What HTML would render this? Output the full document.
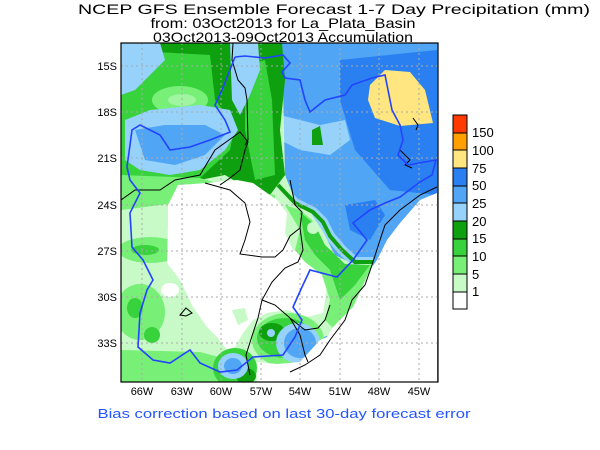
<!DOCTYPE html>
<html><head><meta charset="utf-8"><style>
html,body{margin:0;padding:0;background:#fff;width:600px;height:450px;overflow:hidden}
svg text{font-family:"Liberation Sans",sans-serif}
</style></head><body>
<svg width="600" height="450" viewBox="0 0 600 450" xmlns="http://www.w3.org/2000/svg">
<defs><clipPath id="c"><rect x="121" y="43" width="317" height="339"/></clipPath></defs>
<g font-size="14" fill="#000" text-anchor="middle">
<text x="334" y="14" textLength="512" lengthAdjust="spacingAndGlyphs">NCEP GFS Ensemble Forecast 1-7 Day Precipitation (mm)</text>
<text x="283" y="28" textLength="265" lengthAdjust="spacingAndGlyphs">from: 03Oct2013   for La_Plata_Basin</text>
<text x="283" y="42" textLength="260" lengthAdjust="spacingAndGlyphs">03Oct2013-09Oct2013 Accumulation</text>
</g>
<g clip-path="url(#c)">
<rect x="121" y="43" width="317" height="339" fill="#50a5f5"/>
<path d="M340,60 L437,50 L437,195 L390,190 L355,150 L340,100Z" fill="#2a80f0"/>
<path d="M370,85 L385,70 L410,72 L425,90 L433,123 L400,126 L375,118 L368,100Z" fill="#ffe680"/>
<path d="M280,115 L300,120 L320,125 L345,120 L350,140 L330,155 L300,150 L280,140Z" fill="#96d2fa"/>
<path d="M312,130 L320,126 L323,145 L312,145Z" fill="#0fa00f"/>
<!-- lower east dark blue -->
<path d="M345,205 L375,200 L385,215 L370,240 L350,230Z" fill="#2a80f0"/>
<!-- light blue/dark green rim along the blue edge -->
<path d="M278,185 L295,203 L313,212 L323,222 L330,236 L342,250 L355,262 L373,262" fill="none" stroke="#96d2fa" stroke-width="10"/>
<!-- pale green big -->
<path d="M121,43 L282,43 L285,175 L295,200 L310,212 L322,230 L335,255 L355,265 L372,262 L375,285 L360,300 L345,325 L330,335 L300,345 L290,382 L121,382Z" fill="#c8fac8"/>
<path d="M278,185 L295,203 L313,212 L323,222 L330,236 L342,250 L355,262 L373,262" fill="none" stroke="#0fa00f" stroke-width="4"/>
<!-- NW greens -->
<path d="M121,43 L282,43 L285,80 L280,130 L285,175 L270,195 L250,190 L225,175 L200,180 L180,185 L160,185 L140,190 L121,195Z" fill="#0fa00f"/>
<path d="M121,50 L210,55 L215,100 L235,125 L230,150 L200,178 L160,180 L121,185Z" fill="#37d23c"/>
<path d="M245,65 L265,60 L272,100 L275,175 L255,180 L245,130Z" fill="#37d23c"/>
<ellipse cx="180" cy="100" rx="28" ry="14" fill="#78f078"/>
<ellipse cx="182" cy="100" rx="14" ry="6" fill="#a0f5a0"/>
<path d="M121,43 L160,43 L165,60 L150,75 L135,90 L121,95Z" fill="#96d2fa"/>
<path d="M125,120 L150,110 L200,105 L230,110 L238,130 L225,150 L200,170 L170,175 L140,170 L125,160Z" fill="#96d2fa"/>
<path d="M135,130 L165,125 L205,125 L225,135 L205,155 L175,165 L145,160Z" fill="#50a5f5"/>
<path d="M230,43 L258,43 L260,70 L250,95 L240,115 L232,100Z" fill="#96d2fa"/>
<path d="M121,175 L200,178 L240,190 L275,195 L275,215 L200,200 L121,210Z" fill="#78f078"/>
<!-- left light green patches -->
<ellipse cx="150" cy="250" rx="32" ry="13" fill="#78f078"/>
<ellipse cx="145" cy="250" rx="14" ry="5" fill="#37d23c"/>
<ellipse cx="140" cy="312" rx="25" ry="28" fill="#78f078"/>
<ellipse cx="135" cy="308" rx="8" ry="10" fill="#37d23c"/>
<ellipse cx="152" cy="335" rx="8" ry="8" fill="#37d23c"/>
<path d="M121,350 L200,352 L230,360 L245,382 L121,382Z" fill="#78f078"/>
<!-- white interior -->
<path d="M168,205 L178,185 L207,183 L237,180 L253,183 L277,200 L287,213 L285,233 L293,250 L307,257 L327,260 L333,270 L327,287 L323,313 L307,317 L287,310 L267,313 L253,320 L243,333 L235,347 L227,350 L217,337 L207,327 L193,307 L180,280 L167,263 L168,225Z" fill="#fff"/>
<ellipse cx="170" cy="290" rx="9" ry="7" fill="#fff"/>
<path d="M232,310 L245,308 L248,320 L238,325Z" fill="#c8fac8"/>
<!-- east green band -->
<path d="M285,205 L300,210 L312,220 L320,240 L335,260 L355,270 L372,264 L375,285 L360,300 L350,320 L335,330 L325,320 L330,300 L322,275 L305,262 L295,250 L300,230Z" fill="#78f078"/>
<path d="M300,212 L315,225 L325,245 L345,264 L370,265 L355,285 L340,300 L335,285 L330,270 L315,255 L305,240Z" fill="#37d23c"/>
<circle cx="313" cy="228" r="6" fill="#c8fac8"/>
<!-- Uruguay blob -->
<ellipse cx="288" cy="340" rx="36" ry="27" fill="#78f078"/>
<ellipse cx="285" cy="338" rx="28" ry="20" fill="#37d23c"/>
<ellipse cx="272" cy="332" rx="13" ry="9" fill="#0fa00f"/>
<circle cx="271" cy="333" r="4" fill="#96d2fa"/>
<ellipse cx="298" cy="343" rx="22" ry="20" fill="#96d2fa"/>
<ellipse cx="300" cy="343" rx="16" ry="15" fill="#50a5f5"/>
<!-- south blob -->
<ellipse cx="235" cy="368" rx="22" ry="20" fill="#37d23c"/>
<ellipse cx="246" cy="376" rx="10" ry="8" fill="#0fa00f"/>
<ellipse cx="233" cy="366" rx="15" ry="13" fill="#96d2fa"/>
<ellipse cx="233" cy="366" rx="9" ry="8" fill="#50a5f5"/>
<!-- SE ocean white -->
<path d="M257,362 L277,364 L300,362 L320,340 L327,337 L333,327 L353,307 L370,270 L377,260 L387,240 L400,223 L420,200 L437,193 L437,382 L257,382Z" fill="#fff"/>
<!-- grid -->
<g stroke="#aaa" stroke-width="1" stroke-dasharray="2,3">
<line x1="142" y1="43" x2="142" y2="382"/><line x1="182" y1="43" x2="182" y2="382"/><line x1="221" y1="43" x2="221" y2="382"/><line x1="261" y1="43" x2="261" y2="382"/><line x1="300" y1="43" x2="300" y2="382"/><line x1="340" y1="43" x2="340" y2="382"/><line x1="379" y1="43" x2="379" y2="382"/><line x1="419" y1="43" x2="419" y2="382"/>
<line x1="121" y1="66" x2="438" y2="66"/><line x1="121" y1="112" x2="438" y2="112"/><line x1="121" y1="158" x2="438" y2="158"/><line x1="121" y1="205" x2="438" y2="205"/><line x1="121" y1="251" x2="438" y2="251"/><line x1="121" y1="297" x2="438" y2="297"/><line x1="121" y1="343" x2="438" y2="343"/>
</g>
<!-- borders -->
<g fill="none" stroke="#000" stroke-width="1">
<path d="M233,43 L232,60 L238,80 L245,88 L247,100 L248,140 L245,145"/>
<path d="M121,200 L135,190 L160,190 L175,180 L200,175 L215,150 L240,132 L248,142 L245,150 L240,170 L230,178 L220,185"/>
<path d="M205,183 L230,190 L245,203 L250,222 L245,240 L240,254 L262,257 L275,257 L283,250 L290,236 L300,228 L302,212 L295,205 L290,180"/>
<path d="M300,228 L303,250 L298,262 L285,268 L272,282 L262,300 L258,318 L252,336 L246,355 L250,375"/>
<path d="M437,187 L420,195 L400,210 L385,225 L380,240 L372,265 L365,285 L352,300 L345,320 L330,340 L320,355 L305,365 L290,372"/>
<path d="M262,300 L275,305 L290,318 L305,330 L318,328 L325,320 L330,305"/>
<path d="M290,318 L300,335 L305,355 L308,362"/>
<path d="M413,118 L418,125 L416,130 M400,150 L410,160 L405,165 L412,168"/>
<path d="M180,315 L186,308 L192,313 L186,316Z"/>
</g>
<!-- basin boundary -->
<path d="M235,57 L245,56 L265,58 L283,55 L290,63 L282,72 L285,78 L300,80 L305,100 L310,112 L325,100 L345,95 L352,85 L372,78 L385,75 L388,90 L392,110 L400,125 L403,140 L398,155 L408,165 L425,162 L436,160 L432,175 L420,182 L400,197 L385,203 L370,210 L353,223 L367,240 L353,260 L337,277 L310,270 L302,287 L293,307 L302,320 L295,337 L283,355 L253,357 L237,370 L220,372 L200,363 L190,350 L170,363 L153,360 L138,347 L140,313 L147,290 L153,280 L143,260 L132,247 L130,213 L140,193 L130,180 L127,167 L132,130 L140,125 L160,135 L170,150 L190,147 L210,140 L230,132 L225,120 L215,105 L222,90 L235,57" fill="none" stroke="#2244ff" stroke-width="1.6"/>
</g>
<rect x="121" y="43" width="317" height="339" fill="none" stroke="#000" stroke-width="1.2"/>
<g font-size="11" fill="#000" text-anchor="middle">
<text x="142" y="395">66W</text><text x="182" y="395">63W</text><text x="221" y="395">60W</text><text x="261" y="395">57W</text><text x="300" y="395">54W</text><text x="340" y="395">51W</text><text x="379" y="395">48W</text><text x="419" y="395">45W</text>
</g>
<g font-size="11" fill="#000" text-anchor="end">
<text x="117" y="70">15S</text><text x="117" y="116">18S</text><text x="117" y="162">21S</text><text x="117" y="209">24S</text><text x="117" y="255">27S</text><text x="117" y="301">30S</text><text x="117" y="347">33S</text>
</g>
<g stroke="#000" stroke-width="1">
<rect x="453" y="115" width="14" height="18" fill="#ff3a00"/>
<rect x="453" y="133" width="14" height="17" fill="#ffa000"/>
<rect x="453" y="150" width="14" height="18" fill="#ffe680"/>
<rect x="453" y="168" width="14" height="18" fill="#2a80f0"/>
<rect x="453" y="186" width="14" height="17" fill="#50a5f5"/>
<rect x="453" y="203" width="14" height="18" fill="#96d2fa"/>
<rect x="453" y="221" width="14" height="18" fill="#0fa00f"/>
<rect x="453" y="239" width="14" height="17" fill="#37d23c"/>
<rect x="453" y="256" width="14" height="18" fill="#78f078"/>
<rect x="453" y="274" width="14" height="18" fill="#c8fac8"/>
<rect x="453" y="292" width="14" height="17" fill="#fff"/>
</g>
<g font-size="13" fill="#000">
<text x="472" y="137">150</text><text x="472" y="155">100</text><text x="472" y="173">75</text><text x="472" y="190">50</text><text x="472" y="208">25</text><text x="472" y="226">20</text><text x="472" y="243">15</text><text x="472" y="261">10</text><text x="472" y="279">5</text><text x="472" y="296">1</text>
</g>
<text x="284" y="418" font-size="13" fill="#2255ff" text-anchor="middle" textLength="373" lengthAdjust="spacingAndGlyphs">Bias correction based on last 30-day forecast error</text>
</svg>
</body></html>
